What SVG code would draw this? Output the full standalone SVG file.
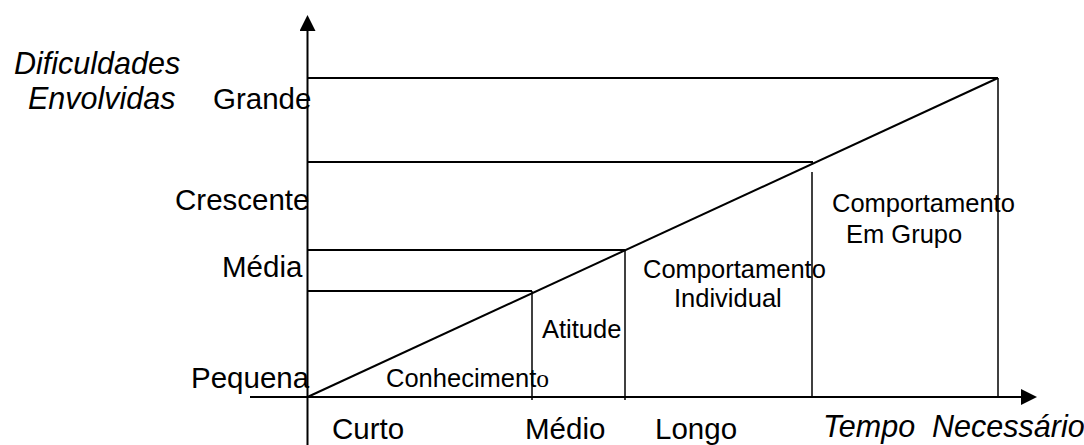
<svg xmlns="http://www.w3.org/2000/svg" width="1084" height="445" viewBox="0 0 1084 445">
  <style>
    .ln { stroke:#000; stroke-width:2; fill:none; }
    .thin { stroke:#000; stroke-width:1.5; fill:none; }
    .ax { font-family:"Liberation Sans", Arial, sans-serif; font-size:29.5px; fill:#000; }
    .it { font-style:italic; font-size:30.5px; }
    .lab { font-family:"Liberation Sans", Arial, sans-serif; font-size:25.5px; fill:#000; }
  </style>
  <defs>
    <marker id="arr" viewBox="0 0 16 16" refX="0" refY="8" markerWidth="16" markerHeight="16" markerUnits="userSpaceOnUse" orient="auto">
      <path d="M0,0 L16,8 L0,16 Z" fill="#000"/>
    </marker>
  </defs>
  <rect width="1084" height="445" fill="#fff"/>
  <g id="connectors">
    <line class="ln" x1="307.5" y1="445" x2="307.5" y2="31" marker-end="url(#arr)"/>
    <line class="ln" x1="250" y1="397" x2="1021" y2="397" marker-end="url(#arr)"/>
    <line class="ln" x1="307.5" y1="397" x2="998" y2="78"/>
    <line class="ln" x1="307.5" y1="78" x2="998" y2="78"/>
    <line class="ln" x1="307.5" y1="162" x2="813" y2="162"/>
    <line class="ln" x1="307.5" y1="250" x2="625" y2="250"/>
    <line class="ln" x1="307.5" y1="291" x2="532" y2="291"/>
    <line class="thin" x1="532" y1="291" x2="532" y2="400"/>
    <line class="thin" x1="625" y1="250" x2="625" y2="400"/>
    <line class="thin" x1="812" y1="172" x2="812" y2="397"/>
    <line class="thin" x1="998" y1="78" x2="998" y2="397"/>
  </g>
  <g id="y-title">
    <text class="ax it" x="14" y="74">Dificuldades</text>
    <text class="ax it" x="28" y="109">Envolvidas</text>
  </g>
  <g id="y-labels">
    <text class="ax" x="213" y="109">Grande</text>
    <text class="ax" x="175" y="210">Crescente</text>
    <text class="ax" x="222" y="277">Média</text>
    <text class="ax" x="191" y="388">Pequena</text>
  </g>
  <g id="x-labels">
    <text class="ax" x="332" y="439">Curto</text>
    <text class="ax" x="525" y="439">Médio</text>
    <text class="ax" x="655" y="439">Longo</text>
    <text class="ax it" x="823" y="437" xml:space="preserve">Tempo  Necessário</text>
  </g>
  <g id="conhecimento">
    <text class="lab" x="386" y="387">Conhecimen<tspan>t</tspan><tspan style="font-family:'Liberation Serif', 'Times New Roman', serif">o</tspan></text>
  </g>
  <g id="atitude">
    <text class="lab" x="542" y="338">Atitude</text>
  </g>
  <g id="comportamento-individual">
    <text class="lab" x="643" y="278">Comportamento</text>
    <text class="lab" x="674" y="307">Individual</text>
  </g>
  <g id="comportamento-grupo">
    <text class="lab" x="832" y="212">Comportamento</text>
    <text class="lab" x="846" y="243">Em Grupo</text>
  </g>
</svg>
